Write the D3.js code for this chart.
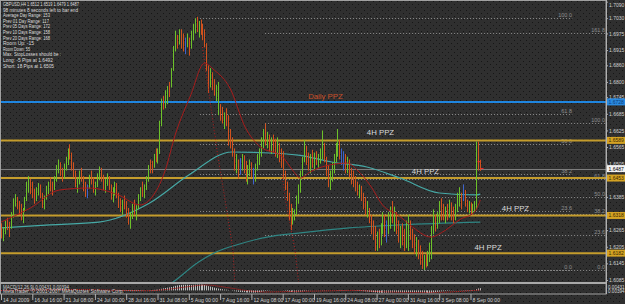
<!DOCTYPE html>
<html><head><meta charset="utf-8">
<script src="https://cdn.jsdelivr.net/npm/d3@7"></script>
<style>
html,body{margin:0;padding:0;background:#2e2e2e;overflow:hidden}
svg{display:block}
text{font-family:"Liberation Sans",Arial,sans-serif}
</style></head><body>
<svg id="c" width="625" height="304"></svg>
<script>
// ---------------- DATA ----------------
const symbolHeader = "GBPUSD,H4  1.6512 1.6519 1.6479 1.6487";
const infoLines = [
  "98 minutes 8 seconds left to bar end",
  "Average Day  Range: 153",
  "Prev 01  Day  Range: 117",
  "Prev 05  Days Range: 172",
  "Prev 10  Days Range: 158",
  "Prev 20  Days Range: 168",
  "Room Up:     -15",
  "Room Down:  55",
  "Max. StopLosses should be :",
  "Long:  -5 Pips at 1.6492",
  "Short: 18 Pips at 1.6505"
];
const timeLabels = ["14 Jul 2009","16 Jul 16:00","21 Jul 08:00","24 Jul 00:00","28 Jul 16:00","31 Jul 08:00",
  "5 Aug 00:00","7 Aug 16:00","12 Aug 08:00","17 Aug 00:00","19 Aug 16:00","24 Aug 08:00","27 Aug 00:00",
  "31 Aug 16:00","3 Sep 08:00","8 Sep 00:00"];
const timeLabelBars = [0,16,32,48,64,80,96,112,128,144,160,176,192,208,224,240];
const priceTicks = [1.7090,1.7030,1.6975,1.6915,1.6860,1.6800,1.6745,1.6685,1.6625,1.6565,1.6505,1.6385,1.6265,1.6205,1.6145,1.6085];

// H4 bars: highs, lows, direction (u = up/green, d = down/red, b = blue)
const highs = [
 1.6290,1.6275,1.6300,1.6310,1.6295,1.6330,1.6380,1.6395,1.6385,1.6370,1.6360,1.6345,1.6385,1.6440,1.6460,1.6450,
 1.6440,1.6415,1.6420,1.6435,1.6430,1.6400,1.6390,1.6425,1.6440,1.6455,1.6440,1.6460,1.6500,1.6520,1.6510,1.6490,
 1.6505,1.6530,1.6560,1.6575,1.6545,1.6510,1.6480,1.6455,1.6480,1.6490,1.6460,1.6440,1.6430,1.6465,1.6480,1.6455,
 1.6440,1.6470,1.6495,1.6490,1.6465,1.6450,1.6470,1.6460,1.6430,1.6420,1.6440,1.6435,1.6400,1.6380,1.6375,1.6390,
 1.6370,1.6345,1.6330,1.6360,1.6375,1.6355,1.6395,1.6420,1.6440,1.6430,1.6460,1.6500,1.6520,1.6515,1.6540,1.6560,
 1.6560,1.6660,1.6740,1.6750,1.6770,1.6785,1.6800,1.6850,1.6930,1.6985,1.6970,1.6990,1.6990,1.6975,1.6960,1.6975,
 1.6960,1.6985,1.7010,1.7030,1.7035,1.7020,1.7025,1.7010,1.6990,1.6940,1.6860,1.6850,1.6835,1.6810,1.6790,1.6800,
 1.6720,1.6710,1.6690,1.6705,1.6680,1.6630,1.6600,1.6560,1.6540,1.6520,1.6525,1.6540,1.6535,1.6515,1.6500,1.6520,
 1.6510,1.6490,1.6505,1.6540,1.6560,1.6600,1.6630,1.6650,1.6620,1.6610,1.6600,1.6610,1.6595,1.6600,1.6580,1.6560,
 1.6550,1.6480,1.6440,1.6400,1.6360,1.6345,1.6340,1.6390,1.6430,1.6480,1.6530,1.6590,1.6570,1.6545,1.6540,1.6555,
 1.6545,1.6550,1.6540,1.6560,1.6625,1.6580,1.6530,1.6500,1.6480,1.6510,1.6540,1.6580,1.6630,1.6590,1.6560,1.6550,
 1.6540,1.6530,1.6520,1.6490,1.6480,1.6460,1.6440,1.6430,1.6425,1.6400,1.6385,1.6370,1.6345,1.6320,1.6300,1.6280,
 1.6260,1.6270,1.6290,1.6330,1.6320,1.6300,1.6330,1.6350,1.6370,1.6350,1.6330,1.6300,1.6280,1.6290,1.6270,1.6300,
 1.6320,1.6300,1.6270,1.6250,1.6240,1.6230,1.6210,1.6190,1.6175,1.6180,1.6190,1.6220,1.6280,1.6340,1.6320,1.6330,
 1.6370,1.6380,1.6360,1.6350,1.6360,1.6375,1.6365,1.6350,1.6360,1.6400,1.6420,1.6400,1.6430,1.6410,1.6375,1.6370,
 1.6365,1.6360,1.6370,1.6585,1.6585,1.6519];
const lows = [
 1.6235,1.6225,1.6250,1.6265,1.6240,1.6270,1.6310,1.6350,1.6340,1.6320,1.6300,1.6290,1.6330,1.6370,1.6400,1.6395,
 1.6380,1.6360,1.6370,1.6390,1.6380,1.6345,1.6340,1.6375,1.6395,1.6405,1.6390,1.6410,1.6440,1.6470,1.6460,1.6440,
 1.6450,1.6480,1.6500,1.6520,1.6480,1.6455,1.6420,1.6400,1.6430,1.6440,1.6405,1.6385,1.6380,1.6415,1.6430,1.6400,
 1.6390,1.6420,1.6445,1.6440,1.6410,1.6400,1.6425,1.6410,1.6375,1.6365,1.6390,1.6380,1.6345,1.6330,1.6320,1.6340,
 1.6310,1.6285,1.6270,1.6305,1.6320,1.6300,1.6340,1.6370,1.6385,1.6380,1.6410,1.6440,1.6470,1.6470,1.6490,1.6510,
 1.6505,1.6540,1.6640,1.6700,1.6705,1.6720,1.6745,1.6780,1.6840,1.6910,1.6920,1.6935,1.6920,1.6910,1.6900,1.6925,
 1.6895,1.6920,1.6950,1.6975,1.6980,1.6960,1.6970,1.6950,1.6925,1.6840,1.6760,1.6780,1.6770,1.6750,1.6730,1.6680,
 1.6660,1.6650,1.6630,1.6640,1.6570,1.6560,1.6530,1.6480,1.6470,1.6450,1.6465,1.6480,1.6470,1.6440,1.6430,1.6460,
 1.6455,1.6430,1.6440,1.6480,1.6500,1.6530,1.6560,1.6570,1.6560,1.6550,1.6540,1.6545,1.6530,1.6525,1.6510,1.6490,
 1.6450,1.6410,1.6370,1.6300,1.6265,1.6285,1.6300,1.6320,1.6360,1.6400,1.6460,1.6510,1.6500,1.6480,1.6470,1.6490,
 1.6480,1.6500,1.6490,1.6505,1.6520,1.6510,1.6460,1.6420,1.6410,1.6440,1.6470,1.6510,1.6530,1.6520,1.6500,1.6480,
 1.6470,1.6470,1.6455,1.6430,1.6420,1.6405,1.6390,1.6380,1.6370,1.6340,1.6320,1.6310,1.6290,1.6250,1.6230,1.6190,
 1.6190,1.6200,1.6210,1.6250,1.6240,1.6220,1.6250,1.6270,1.6290,1.6260,1.6250,1.6220,1.6200,1.6210,1.6190,1.6200,
 1.6190,1.6230,1.6200,1.6180,1.6170,1.6160,1.6140,1.6125,1.6121,1.6130,1.6135,1.6150,1.6160,1.6250,1.6260,1.6270,
 1.6290,1.6300,1.6300,1.6290,1.6300,1.6310,1.6300,1.6290,1.6300,1.6330,1.6350,1.6340,1.6370,1.6350,1.6330,1.6325,
 1.6320,1.6325,1.6330,1.6340,1.6480,1.6479];
const barDirs = [
 "duud duuu dddu uuud","dduu dduu uddu uudd","uuud dddu uddd budd","uuud duud duud ddud",
 "dduu duuu duuu ddud","uuud uudu uudu ddbu","duuu dudd dddu dduu","ddud dddd udbu dduu",
 "dbuu uuud udud dudd","dddd duuu uuuu ddud","uduu uddd uuuu udbb","dudd dddu dddu dddd",
 "uduu dbuu dudd uddu","uddd uddd uduu uudu","uddu dudd uuud bddu","duuu dd"];
const lastOpen = 1.6512, lastClose = 1.6487;

// moving averages (bar index, price)
const maTealBars = [0, 25, 50, 76, 96, 118, 132, 152, 169, 187, 204, 224, 243, 245];
const maTealVals = [1.6273,1.6284,1.6294,1.6363,1.6464,1.6547,1.6545,1.6536,1.6511,1.6493,1.6453,1.6399,1.6392,1.6395];
const maSlowBars = [70, 80, 88, 101, 110, 122, 136, 153, 178, 204, 245];
const maSlowVals = [1.6000,1.6042,1.6078,1.6150,1.6186,1.6215,1.6240,1.6255,1.6273,1.6284,1.6294];
const maRedBars = [0,15,30,45,60,71,78,84,89,97,104,109,117,125,132,144,149,153,158,166,177,182,189,195,203,209,220,225,235,242,245];
const maRedVals = [1.6294,1.6345,1.6410,1.6417,1.6392,1.6356,1.6392,1.6482,1.6608,1.6753,1.6868,1.6843,1.6778,1.6634,1.6569,
  1.6529,1.6482,1.6453,1.6475,1.6497,1.6507,1.6482,1.6424,1.6356,1.6320,1.6284,1.6240,1.6255,1.6305,1.6330,1.6374];
const dotted1Bars = [103, 110.4, 117, 118.6, 119.6];
const dotted1Vals = [1.6926, 1.6554, 1.6266, 1.6193, 1.6060];
const dotted2Bars = [143.7, 145.7, 150.3, 152.4];
const dotted2Vals = [1.6464, 1.6363, 1.6193, 1.6060];

// horizontal zones
const dailyPPZ = 1.6728;
const h4PPZ = [1.6589, 1.6453, 1.6318, 1.6182];
const ppzLabels = [
  {text:"Daily PPZ", bar:157, price:1.6738, daily:true},
  {text:"4H PPZ", bar:187, price:1.6608},
  {text:"4H PPZ", bar:210, price:1.6468},
  {text:"4H PPZ", bar:256, price:1.6334},
  {text:"4H PPZ", bar:242, price:1.6193}
];

// Fibonacci retracements
const fibA = {hi:1.7030, lo:1.6121, startBar:101.7, endBar:292, levels:[0,23.6,38.2,50.0,61.8,100.0]};
const fibB = {hi:1.6650, lo:1.6121, startBar:135, endBar:310, levels:[0,23.6,38.2,50.0,61.8,100.0,161.8]};

// MACD(12,26,9) histogram, in units of 0.0001
const macdHist = [
 0,1,2,3,3,4,6,8,9,9,8,7,8,11,14,15,
 15,14,14,14,13,11,10,10,11,12,12,13,16,19,20,19,
 19,20,22,23,22,19,16,13,12,11,9,7,5,5,5,5,
 5,6,7,7,6,5,5,4,2,0,-1,-2,-4,-6,-8,-9,
 -10,-12,-14,-14,-13,-13,-11,-8,-6,-4,-1,3,6,8,11,13,
 15,22,32,40,47,54,59,66,76,88,96,103,107,109,109,109,
 107,107,109,112,114,114,113,110,105,96,83,73,63,53,44,36,
 30,24,18,14,7,0,-7,-15,-21,-27,-30,-32,-35,-38,-40,-40,
 -41,-42,-41,-37,-32,-25,-18,-12,-8,-5,-3,-1,0,0,0,-1,
 -4,-8,-14,-21,-29,-34,-37,-37,-35,-30,-23,-14,-9,-6,-3,-1,
 0,1,1,2,5,6,4,1,-2,-3,-2,1,5,6,6,5,
 4,3,1,-1,-3,-6,-8,-10,-12,-15,-18,-21,-24,-28,-33,-38,
 -42,-45,-46,-45,-44,-44,-42,-39,-36,-34,-33,-33,-34,-34,-35,-34,
 -32,-31,-31,-32,-33,-35,-37,-40,-43,-45,-46,-45,-42,-37,-33,-29,
 -24,-19,-16,-13,-10,-7,-5,-4,-2,0,3,4,6,7,7,7,
 8,8,9,25,38,43];
const macdSignalBars = [0,20,40,60,75,85,95,105,115,125,135,150,165,180,195,210,225,240,245];
const macdSignalVals = [0,10,15,2,-6,20,70,105,60,0,-30,-20,-10,0,-25,-38,-35,-5,8];
const macdTitle = "MACD(12,26,9) 0.00431 0.00394";
const macdAxisLabels = ["0.00431","0.00394"];
const copyright = "MetaTrader, \u00A9 2001-2007 MetaQuotes Software Corp.";

// ---------------- DRAW ----------------
const W = 625, H = 304, R = 606, mainB = 282, macdT = 284, macdB = 294;
const svg = d3.select("#c");
const defs = svg.append("defs");
const pat = defs.append("pattern").attr("id","dots").attr("width",6).attr("height",6).attr("patternUnits","userSpaceOnUse");
pat.append("rect").attr("width",6).attr("height",6).attr("fill","#2f2f2f");
pat.append("rect").attr("x",1).attr("y",1).attr("width",1).attr("height",1).attr("fill","#161616");
pat.append("rect").attr("x",4).attr("y",4).attr("width",1).attr("height",1).attr("fill","#161616");
defs.append("clipPath").attr("id","clipMain").append("rect").attr("x",0).attr("y",0).attr("width",R).attr("height",mainB);
defs.append("clipPath").attr("id","clipMacd").append("rect").attr("x",0).attr("y",macdT).attr("width",R).attr("height",macdB-macdT);

svg.append("rect").attr("width",W).attr("height",H).attr("fill","url(#dots)");

const x = d3.scaleLinear().domain([0,240]).range([1,470.5]);
const y = d3.scaleLinear().domain([1.6085,1.7090]).range([280,1.6]);
const mY = d3.scaleLinear().domain([-50,115]).range([293,284.5]);

const dirs = barDirs.join("").replace(/ /g,"").split("");
const bars = highs.map((h,i)=>({i, h, l:lows[i], d:dirs[i]}));
const colorOf = {u:"#6cc12a", d:"#d2521e", b:"#3e63cc"};

const main = svg.append("g").attr("clip-path","url(#clipMain)");

// fib lines
function drawFib(f, anchorX){
  const g = main.append("g");
  f.levels.forEach(lv=>{
    const p = f.lo + (f.hi - f.lo)*lv/100;
    const yy = Math.round(y(p)) + 0.5;
    g.append("line").attr("x1",x(f.startBar)).attr("x2",x(f.endBar)).attr("y1",yy).attr("y2",yy)
      .attr("stroke","#8a8a8a").attr("stroke-width",1).attr("stroke-dasharray","1,2");
    g.append("text").attr("x",anchorX).attr("y",yy-1.5).attr("text-anchor","end")
      .attr("font-size","5.5px").attr("fill","#8f8f8f").text(lv.toFixed(1));
  });
}
drawFib(fibA, 572);
drawFib(fibB, 605);

// horizontal lines
main.append("line").attr("x1",0).attr("x2",R).attr("y1",y(dailyPPZ)).attr("y2",y(dailyPPZ))
  .attr("stroke","#1f86e0").attr("stroke-width",2);
main.selectAll(".h4").data(h4PPZ).join("line").attr("x1",0).attr("x2",R)
  .attr("y1",d=>y(d)).attr("y2",d=>y(d)).attr("stroke","#c49c2c").attr("stroke-width",2);
main.append("line").attr("x1",0).attr("x2",R).attr("y1",Math.round(y(lastClose))+0.5).attr("y2",Math.round(y(lastClose))+0.5)
  .attr("stroke","#7d7d7d").attr("stroke-width",1);

// moving averages
const lineGen = d3.line().x(d=>x(d[0])).y(d=>y(d[1])).curve(d3.curveMonotoneX);
main.append("path").attr("d",lineGen(d3.zip(maSlowBars,maSlowVals))).attr("fill","none").attr("stroke","#2f8583").attr("stroke-width",1.2);
main.append("path").attr("d",lineGen(d3.zip(maTealBars,maTealVals))).attr("fill","none").attr("stroke","#46a9a6").attr("stroke-width",1.2);

// bars
main.append("g").selectAll("line").data(bars).join("line")
  .attr("x1",d=>Math.round(x(d.i))+0.5).attr("x2",d=>Math.round(x(d.i))+0.5)
  .attr("y1",d=>y(d.h)).attr("y2",d=>y(d.l))
  .attr("stroke",d=>colorOf[d.d]).attr("stroke-width",1);
// last bar open/close ticks
const lx = Math.round(x(bars.length-1))+0.5;
main.append("line").attr("x1",lx-3).attr("x2",lx).attr("y1",y(lastOpen)).attr("y2",y(lastOpen)).attr("stroke","#ff2a2a");
main.append("line").attr("x1",lx).attr("x2",lx+3).attr("y1",y(lastClose)).attr("y2",y(lastClose)).attr("stroke","#ff2a2a");

// red MA + dotted lines
main.append("path").attr("d",lineGen(d3.zip(maRedBars,maRedVals))).attr("fill","none").attr("stroke","#a81d1d").attr("stroke-width",1);
const lineLin = d3.line().x(d=>x(d[0])).y(d=>y(d[1]));
[[dotted1Bars,dotted1Vals],[dotted2Bars,dotted2Vals]].forEach(([b,v])=>{
  main.append("path").attr("d",lineLin(d3.zip(b,v))).attr("fill","none").attr("stroke","#b02020")
    .attr("stroke-width",1).attr("stroke-dasharray","1,2");
});

// PPZ labels
main.selectAll(".ppz").data(ppzLabels).join("text")
  .attr("x",d=>x(d.bar)).attr("y",d=>y(d.price))
  .attr("font-size","7.8px").attr("fill",d=>d.daily?"#c9502a":"#dcdcdc").text(d=>d.text);

// info text
const infoAll = [symbolHeader].concat(infoLines);
const infoWidths = [76,75,47,46,47,47,47,31,27,58,50,51];
svg.append("g").selectAll("text").data(infoAll).join("text")
  .attr("x",3).attr("y",(d,i)=>6+i*5.6).attr("font-size","5.2px").attr("fill","#dedede")
  .attr("textLength",(d,i)=>infoWidths[i]).attr("lengthAdjust","spacingAndGlyphs").text(d=>d);

// MACD panel
const macd = svg.append("g").attr("clip-path","url(#clipMacd)");
macd.append("g").selectAll("line").data(macdHist.map((v,i)=>({i,v}))).join("line")
  .attr("x1",d=>Math.round(x(d.i))+0.5).attr("x2",d=>Math.round(x(d.i))+0.5)
  .attr("y1",mY(0)).attr("y2",d=>mY(d.v)).attr("stroke","#bdbdbd").attr("stroke-width",1);
const sigGen = d3.line().x(d=>x(d[0])).y(d=>mY(d[1])).curve(d3.curveMonotoneX);
macd.append("path").attr("d",sigGen(d3.zip(macdSignalBars,macdSignalVals))).attr("fill","none")
  .attr("stroke","#d02020").attr("stroke-width",1).attr("stroke-dasharray","1,1");
svg.append("text").attr("x",3).attr("y",288.5).attr("font-size","4.8px").attr("fill","#d0d0d0")
  .attr("textLength",66).attr("lengthAdjust","spacingAndGlyphs").text(macdTitle);
svg.append("text").attr("x",3).attr("y",293.3).attr("font-size","4.8px").attr("fill","#d0d0d0")
  .attr("textLength",121).attr("lengthAdjust","spacingAndGlyphs").text(copyright);

// frame / separators
svg.append("rect").attr("x",0.5).attr("y",0.5).attr("width",R-0.5).attr("height",macdB-0.5)
  .attr("fill","none").attr("stroke","#a0a0a0");
svg.append("line").attr("x1",0).attr("x2",R).attr("y1",283).attr("y2",283).attr("stroke","#a8a8a8").attr("stroke-width",2);

// price axis
const ya = svg.append("g").attr("transform",`translate(${R},0)`)
  .call(d3.axisRight(y).tickValues(priceTicks).tickFormat(d3.format(".4f")).tickSize(2).tickPadding(1));
ya.select(".domain").remove();
ya.selectAll("line").attr("stroke","#b0b0b0");
ya.selectAll("text").attr("font-size","5px").attr("fill","#d0d0d0").attr("font-family","Liberation Sans, Arial");
ya.selectAll(".tick").filter(d=>d>1.7060).select("text").attr("dy","0.9em");

// price label boxes
const boxes = [{v:dailyPPZ, fill:"#2a8ae0", tc:"#0b3c7a"}]
  .concat(h4PPZ.map(v=>({v, fill:"#d4a324", tc:"#3a2800"})))
  .concat([{v:lastClose, fill:"#f2f2f2", tc:"#000"}]);
const bg = svg.append("g").selectAll("g").data(boxes).join("g");
bg.append("rect").attr("x",R+1).attr("y",d=>y(d.v)-3.5).attr("width",W-R-1).attr("height",7).attr("fill",d=>d.fill);
bg.append("text").attr("x",R+2.5).attr("y",d=>y(d.v)+2).attr("font-size","5px").attr("fill",d=>d.tc)
  .text(d=>d3.format(".4f")(d.v));

// MACD axis labels
svg.append("g").selectAll("text").data(macdAxisLabels).join("text")
  .attr("x",R+2).attr("y",(d,i)=>288.5+i*4.5).attr("font-size","4.6px").attr("fill","#d8d8d8").text(d=>d);

// time axis
const xa = svg.append("g").attr("transform",`translate(0,${macdB})`)
  .call(d3.axisBottom(x).tickValues(timeLabelBars).tickFormat((d,i)=>timeLabels[i]).tickSize(6));
xa.select(".domain").remove();
xa.selectAll("line").attr("stroke","#b0b0b0");
xa.selectAll("text").attr("text-anchor","start").attr("x",1.5).attr("y",8).attr("dy",0)
  .attr("font-size","5.1px").attr("fill","#d0d0d0").attr("font-family","Liberation Sans, Arial");
svg.append("line").attr("x1",R+0.5).attr("x2",R+0.5).attr("y1",0).attr("y2",macdB).attr("stroke","#b0b0b0");
</script>
</body></html>
